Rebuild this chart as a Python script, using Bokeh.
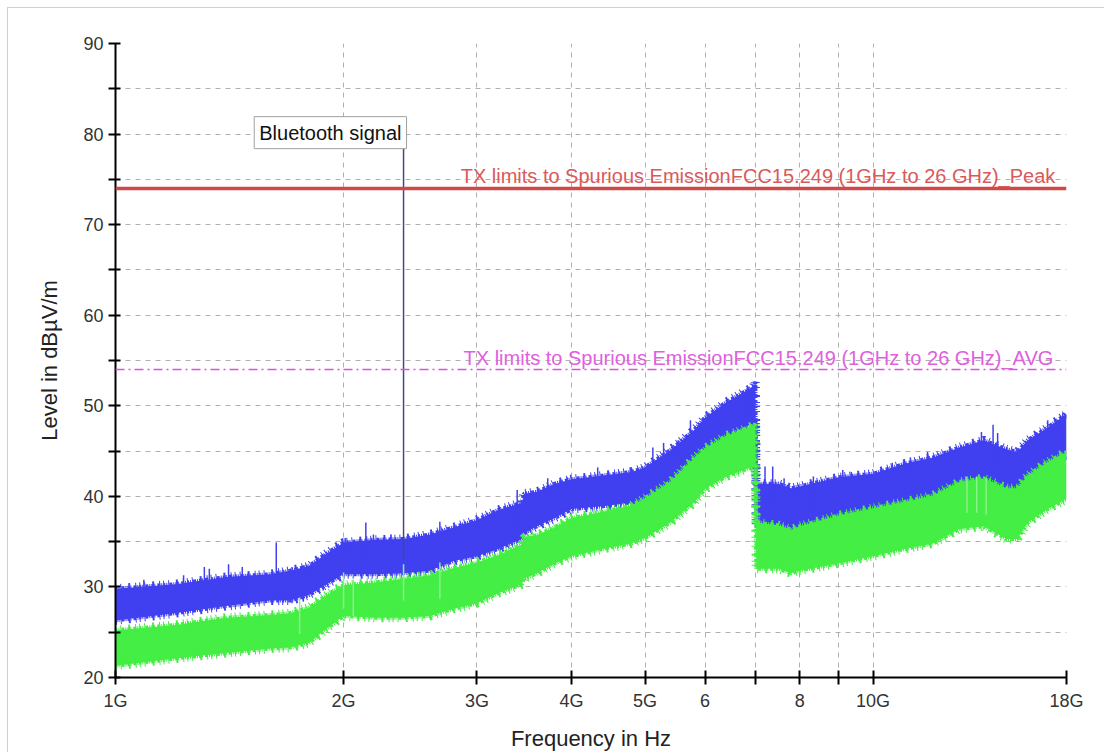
import numpy as np
from bokeh.plotting import figure
from bokeh.models import FixedTicker, Label, Span, Range1d
from bokeh.embed import file_html
from bokeh.resources import INLINE

# ---------------- data (frequency in GHz, level in dBuV/m) ----------------
x_ticks = [1, 2, 3, 4, 5, 6, 7, 8, 9, 10, 18]
x_tick_labels = ["1G", "2G", "3G", "4G", "5G", "6", "", "8", "", "10G", "18G"]
y_major = [20, 30, 40, 50, 60, 70, 80, 90]
y_minor = [25, 35, 45, 55, 65, 75, 85]

freq = [1.0, 1.2, 1.4, 1.6, 1.7, 1.8, 1.9, 2.0, 2.2, 2.4, 2.6, 2.8, 3.0, 3.2, 3.44, 3.46,
        3.6, 3.8, 4.0, 4.4, 4.8, 5.0, 5.4, 5.8, 6.0, 6.4, 6.95, 6.99, 7.01, 7.5, 7.8, 8.0,
        9.0, 10.0, 11.0, 12.0, 13.0, 14.0, 15.0, 15.5, 16.0, 17.0, 18.0]
blue_high = [29.8, 30.3, 31.1, 31.4, 31.8, 32.3, 33.7, 34.9, 35.2, 35.3, 35.8, 36.6, 37.4, 38.5, 39.3, 40.3,
             40.5, 41.4, 41.9, 42.3, 42.7, 43.2, 45.1, 47.3, 48.7, 50.4, 52.1, 52.6, 41.4, 41.4, 40.9, 41.1,
             42.1, 42.5, 43.6, 44.3, 45.4, 46.2, 45.2, 44.9, 46.2, 47.6, 49.1]
blue_low = [26.3, 27.1, 27.9, 28.5, 28.5, 29.1, 30.3, 31.4, 31.4, 31.5, 31.8, 32.9, 33.4, 34.2, 35.3, 35.9,
            36.7, 37.6, 38.6, 38.9, 39.3, 39.7, 41.1, 43.7, 44.8, 46.6, 48.1, 48.3, 36.7, 36.7, 36.3, 36.5,
            37.5, 37.8, 38.7, 39.5, 40.8, 41.5, 40.4, 40.0, 41.5, 43.0, 44.4]
green_high = [25.2, 25.8, 26.6, 26.9, 27.1, 27.7, 29.1, 30.2, 30.5, 30.9, 31.3, 32.1, 32.7, 33.5, 34.7, 35.5,
              35.7, 36.6, 37.6, 38.3, 39.0, 39.8, 41.6, 44.2, 45.3, 46.7, 47.8, 48.0, 37.1, 36.8, 36.3, 36.7,
              37.9, 38.7, 39.4, 40.1, 41.6, 42.0, 40.9, 40.9, 42.3, 43.8, 44.9]
green_low = [21.3, 22.1, 22.7, 23.2, 23.3, 23.8, 25.4, 26.8, 26.6, 26.6, 26.8, 27.6, 28.2, 29.3, 30.3, 30.9,
             31.5, 32.6, 33.4, 34.2, 34.8, 35.4, 37.1, 39.3, 40.8, 42.2, 43.3, 43.5, 32.0, 32.0, 31.5, 31.8,
             32.6, 33.4, 34.2, 34.8, 36.4, 36.7, 35.3, 35.3, 37.1, 38.6, 39.7]

blue_spike_f = [1.09, 1.23, 1.31, 1.33, 1.41, 1.47, 1.63, 1.71, 1.77, 1.88, 2.01, 2.14, 2.19, 2.31,
                2.68, 2.87, 3.22, 3.39, 3.72, 3.95, 4.33, 4.78, 5.12, 5.29, 5.53, 5.74, 6.81,
                7.2, 7.37, 7.63, 8.34, 9.12, 9.36, 10.6, 11.2, 11.8, 13.9, 14.4, 14.6, 16.4, 17.0, 17.8]
blue_spike_db = [30.8, 31.3, 32.2, 32.0, 32.5, 32.2, 34.9, 32.2, 32.4, 33.6, 35.4, 37.1, 35.8, 35.8,
                 37.2, 37.0, 37.8, 40.7, 42.0, 42.1, 43.2, 43.2, 45.4, 45.9, 46.2, 48.4, 51.8,
                 43.3, 43.3, 42.0, 42.2, 42.9, 42.7, 43.7, 44.3, 44.9, 47.1, 47.9, 47.0, 47.1, 48.4, 49.2]
green_spike_f = [1.75, 2.0, 2.06, 2.4, 2.68, 13.3, 13.7, 14.1]
green_spike_db = [28.8, 31.6, 30.8, 32.5, 32.7, 42.2, 42.2, 42.0]

bt_freq = 2.4
bt_top = 78.5
bt_base = 33.0
bt_text = "Bluetooth signal"

peak_limit = 74
avg_limit = 54
peak_text = "TX limits to Spurious EmissionFCC15.249 (1GHz to 26 GHz)_Peak"
avg_text = "TX limits to Spurious EmissionFCC15.249 (1GHz to 26 GHz)_AVG"
peak_text_start = 2.855
avg_text_start = 2.88

FONT = "Liberation Sans"

# ---------------- figure ----------------
p = figure(width=1097, height=745, x_axis_type="log", output_backend="svg",
           toolbar_location=None, x_range=Range1d(1.0, 18.0), y_range=Range1d(20, 90),
           min_border_left=107, min_border_right=39, min_border_top=35, min_border_bottom=75,
           styles={"margin-left": "7px", "margin-top": "7px",
                   "border-left": "1px solid #cfcfcf", "border-top": "1px solid #cfcfcf"})
p.outline_line_color = None
p.background_fill_color = "white"
p.border_fill_color = "white"

# axes
p.xaxis.ticker = FixedTicker(ticks=x_ticks, minor_ticks=[])
p.xaxis.major_label_overrides = {t: l for t, l in zip(x_ticks, x_tick_labels)}
p.yaxis.ticker = FixedTicker(ticks=y_major, minor_ticks=y_minor)
for ax in (p.xaxis[0], p.yaxis[0]):
    ax.axis_line_color = "black"
    ax.axis_line_width = 2
    ax.major_tick_line_color = "black"
    ax.major_tick_line_width = 2
    ax.minor_tick_line_color = "black"
    ax.minor_tick_line_width = 2
    ax.major_label_text_font = FONT
    ax.major_label_text_font_size = "18px"
    ax.major_label_text_color = "#333333"
    ax.axis_label_text_font = FONT
    ax.axis_label_text_font_style = "normal"
    ax.axis_label_text_color = "#222222"
    ax.axis_label_text_font_size = "22px"
p.xaxis.major_tick_in = 7
p.xaxis.major_tick_out = 7
p.yaxis.major_tick_in = 5
p.yaxis.major_tick_out = 7
p.yaxis.minor_tick_in = 5
p.yaxis.minor_tick_out = 7
p.xaxis.major_label_standoff = 6
p.yaxis.major_label_standoff = 5
p.xaxis.axis_label = "Frequency in Hz"
p.yaxis.axis_label = "Level in dB\u00b5V/m"
p.xaxis.axis_label_standoff = 12
p.yaxis.axis_label_standoff = 18

# grid
for g in (p.xgrid, p.ygrid):
    g.grid_line_color = "#b0b0b0"
    g.grid_line_dash = "5 5"
    g.grid_line_width = 1
p.ygrid.minor_grid_line_color = "#b0b0b0"
p.ygrid.minor_grid_line_dash = "5 5"
p.ygrid.minor_grid_line_width = 1

# traces (noise band + ragged edges + spikes)
BLUE = "#4040f0"
GREEN = "#44ee44"


def ragged_band(lo, hi, color):
    p.varea(x=freq, y1=lo, y2=hi, fill_color=color)
    for edge in (lo, hi):
        p.line(x=freq, y=edge, line_color=color, line_width=9, line_dash="1 4 1 7 2 5 1 3")
        p.line(x=freq, y=edge, line_color=color, line_width=4, line_dash="2 1 1 2 3 1 1 1")


ragged_band(blue_low, blue_high, BLUE)
p.segment(x0=blue_spike_f, y0=blue_spike_db, x1=blue_spike_f,
          y1=[v - 4 for v in blue_spike_db], line_color=BLUE, line_width=1.5)
ragged_band(green_low, green_high, GREEN)
p.segment(x0=green_spike_f, y0=green_spike_db, x1=green_spike_f,
          y1=[v - 4 for v in green_spike_db], line_color="#8cf08c", line_width=1.5)

# limit lines
p.add_layout(Span(location=peak_limit, dimension="width", line_color="#d04848", line_width=3.5))
p.add_layout(Span(location=avg_limit, dimension="width", line_color="#e050e0", line_width=1.5,
                  line_dash="9 4 2 4"))
p.add_layout(Label(x=peak_text_start, y=peak_limit, text=peak_text, text_font=FONT,
                   text_font_size="20px", text_color="#d85a5a", text_baseline="bottom",
                   y_offset=1))
p.add_layout(Label(x=avg_text_start, y=avg_limit, text=avg_text, text_font=FONT,
                   text_font_size="20px", text_color="#e060e0", text_baseline="bottom",
                   y_offset=1))

# bluetooth marker
p.segment(x0=[bt_freq], y0=[bt_top], x1=[bt_freq], y1=[bt_base], line_color="#45458f", line_width=1.5)
p.add_layout(Label(x=bt_freq, y=bt_top, text=bt_text, text_font=FONT, text_font_size="20px",
                   text_color="#111111", text_align="right", text_baseline="middle",
                   x_offset=3, y_offset=15, background_fill_color="white",
                   border_line_color="#a0a0a0", border_line_width=1, padding=5))

open("out.html", "w").write(file_html(p, INLINE))
